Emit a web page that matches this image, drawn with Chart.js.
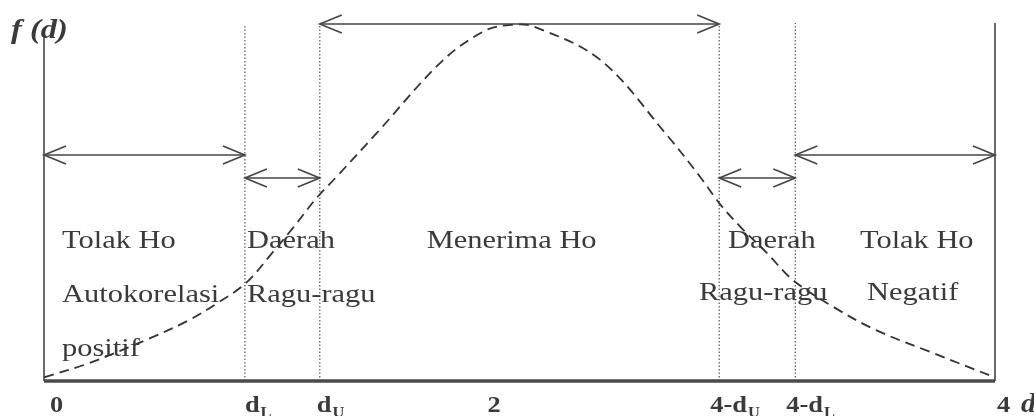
<!DOCTYPE html>
<html>
<head>
<meta charset="utf-8">
<script src="https://cdn.jsdelivr.net/npm/chart.js@4/dist/chart.umd.min.js"></script>
<style>
  html, body { margin: 0; padding: 0; background: #fff; }
  canvas { display: block; }
</style>
</head>
<body>
<canvas id="dw" width="1034" height="416"></canvas>
<script>
// Durbin-Watson critical values on the d axis (0..4)
const dL = 0.845;
const dU = 1.16;
const dUr = 2.84;   // 4-dU
const dLr = 3.16;   // 4-dL

// ticks under the axis
const tickValues = [0, dL, dU, 2, dUr, dLr, 4];
const tickMain = ["0", "d", "d", "2", "4-d", "4-d", "4"];
const tickSub = ["", "L", "U", "", "U", "L", ""];
const tickShift = [6, 0, -3, -32, -9, -9, 2];

// f(d) curve
const curveD = [0, 0.19, 0.43, 0.61, 0.73, 0.85, 0.96, 1.05, 1.15, 1.23, 1.40, 1.68, 1.86, 1.97, 2.06, 2.34, 2.62, 2.76, 2.84, 2.93, 3.04, 3.15, 3.32, 3.50, 3.74, 4.0];
const curveF = [0.01, 0.05, 0.115, 0.17, 0.218, 0.274, 0.358, 0.43, 0.514, 0.57, 0.693, 0.897, 0.98, 0.995, 0.99, 0.897, 0.687, 0.57, 0.497, 0.43, 0.358, 0.282, 0.207, 0.142, 0.078, 0.01];

// region texts: text, d position, height
const noteText = ["Tolak Ho", "Autokorelasi", "positif", "Daerah", "Ragu-ragu", "Menerima Ho", "Daerah", "Ragu-ragu", "Tolak Ho", "Negatif"];
const noteD = [0.076, 0.076, 0.076, 0.854, 0.854, 1.61, 2.877, 2.755, 3.432, 3.462];
const noteF = [0.372, 0.222, 0.07, 0.372, 0.222, 0.372, 0.372, 0.225, 0.372, 0.225];

const ink = "#3a3a3a";
const serif = "'Liberation Serif', 'Times New Roman', serif";

const seg = (x1, y1, x2, y2) => [{x: x1, y: y1}, {x: x2, y: y2}];

const datasets = [
  { label: "f(d)", data: curveD.map((d, i) => ({x: d, y: curveF[i]})), borderColor: "#333", borderWidth: 1.8, borderDash: [10, 6], tension: 0.35 },
  { label: "axis", data: seg(0, 0, 4, 0), borderColor: "#4a4a4a", borderWidth: 3.5 },
  { label: "left", data: seg(0, 0, 0, 0.98), borderColor: "#444", borderWidth: 1.6 },
  { label: "right", data: seg(4, 0, 4, 1.0), borderColor: "#444", borderWidth: 1.6 },
  { label: "dL", data: seg(dL, 0, dL, 0.994), borderColor: "#555", borderWidth: 1.2, borderDash: [1.5, 2] },
  { label: "dU", data: seg(dU, 0, dU, 0.997), borderColor: "#555", borderWidth: 1.2, borderDash: [1.5, 2] },
  { label: "4-dU", data: seg(dUr, 0, dUr, 0.997), borderColor: "#555", borderWidth: 1.2, borderDash: [1.5, 2] },
  { label: "4-dL", data: seg(dLr, 0, dLr, 1.0), borderColor: "#555", borderWidth: 1.2, borderDash: [1.5, 2] },
  { label: "accept", arrow: true, data: seg(dU, 0.997, dUr, 0.997), borderColor: "#444", borderWidth: 1.5 },
  { label: "rejectPos", arrow: true, data: seg(0, 0.631, dL, 0.631), borderColor: "#444", borderWidth: 1.5 },
  { label: "doubtL", arrow: true, data: seg(dL, 0.567, dU, 0.567), borderColor: "#444", borderWidth: 1.5 },
  { label: "doubtR", arrow: true, data: seg(dUr, 0.567, dLr, 0.567), borderColor: "#444", borderWidth: 1.5 },
  { label: "rejectNeg", arrow: true, data: seg(dLr, 0.631, 4, 0.631), borderColor: "#444", borderWidth: 1.5 }
];

// draw text stretched sideways like the scanned figure
function wideText(ctx, txt, x, y, font, sx) {
  ctx.save();
  ctx.translate(x, y);
  ctx.scale(sx, 1);
  ctx.font = font;
  ctx.fillText(txt, 0, 0);
  const w = ctx.measureText(txt).width * sx;
  ctx.restore();
  return w;
}

const extras = {
  id: "extras",
  afterDatasetsDraw(chart) {
    const ctx = chart.ctx;
    const xs = chart.scales.x, ys = chart.scales.y;
    ctx.save();
    ctx.fillStyle = ink;
    ctx.textBaseline = "alphabetic";
    ctx.textAlign = "left";

    // arrow heads on both ends
    chart.data.datasets.forEach((ds) => {
      if (!ds.arrow) return;
      const y = ys.getPixelForValue(ds.data[0].y);
      const a = xs.getPixelForValue(ds.data[0].x);
      const b = xs.getPixelForValue(ds.data[1].x);
      ctx.strokeStyle = ds.borderColor;
      ctx.lineWidth = 1.6;
      ctx.beginPath();
      ctx.moveTo(a + 22, y - 9); ctx.lineTo(a, y); ctx.lineTo(a + 22, y + 9);
      ctx.moveTo(b - 22, y - 9); ctx.lineTo(b, y); ctx.lineTo(b - 22, y + 9);
      ctx.stroke();
    });

    // region texts
    noteText.forEach((t, i) => {
      wideText(ctx, t, xs.getPixelForValue(noteD[i]), ys.getPixelForValue(noteF[i]), "26px " + serif, 1.17);
    });

    // tick labels with subscripts
    const base = ys.getPixelForValue(0) + 31;
    tickValues.forEach((v, i) => {
      const x = xs.getPixelForValue(v) + tickShift[i];
      const w = wideText(ctx, tickMain[i], x, base, "bold 24px " + serif, 1.1);
      if (tickSub[i]) wideText(ctx, tickSub[i], x + w + 1, base + 5, "bold 15px " + serif, 1.1);
    });

    // axis names
    wideText(ctx, "d", xs.getPixelForValue(4) + 26, base, "bold italic 27px " + serif, 1.1);
    wideText(ctx, "f (d)", xs.left - 33, ys.top + 15, "bold italic 27px " + serif, 1.2);
    ctx.restore();
  }
};

new Chart(document.getElementById("dw"), {
  type: "scatter",
  data: { datasets: datasets.map(ds => Object.assign({ showLine: true, pointRadius: 0, fill: false, clip: false, tension: 0 }, ds)) },
  options: {
    responsive: false,
    devicePixelRatio: 1,
    animation: false,
    layout: { padding: { left: 44, right: 39, top: 23, bottom: 35 } },
    plugins: { legend: { display: false }, tooltip: { enabled: false } },
    scales: {
      x: { type: "linear", min: 0, max: 4, display: false },
      y: { type: "linear", min: 0, max: 1, display: false }
    }
  },
  plugins: [extras]
});
</script>
</body>
</html>
